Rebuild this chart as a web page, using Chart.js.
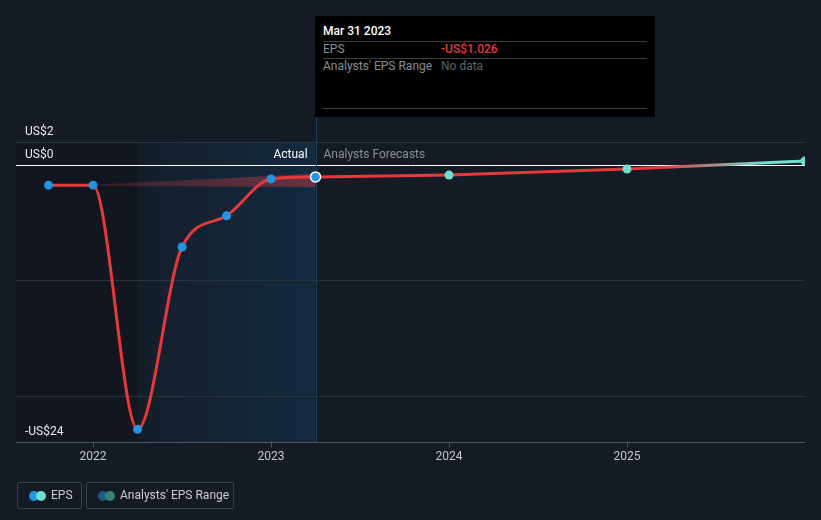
<!DOCTYPE html>
<html><head><meta charset="utf-8">
<script src="https://cdn.jsdelivr.net/npm/chart.js@4/dist/chart.umd.min.js"></script>
<style>
html,body{margin:0;padding:0;background:#151b25;width:821px;height:520px;overflow:hidden;font-family:Roboto,"Noto Sans",sans-serif;}
#wrap{position:absolute;left:0;top:0;width:821px;height:520px;}
#tip{position:absolute;left:315px;top:16px;width:340px;height:101px;background:#000;box-sizing:border-box;}
#tip .t{position:absolute;left:8px;top:8px;color:#fff;font-size:12px;font-weight:500;}
#tip .sep{position:absolute;left:8px;right:8px;height:1px;background:#3a3d44;}
#tip .r{position:absolute;font-size:12px;}
.leg{position:absolute;top:482px;height:27px;border:1px solid #3a404b;border-radius:2px;box-sizing:border-box;color:#c9ccd1;font-size:12px;line-height:25px;}
.dot{position:absolute;top:8px;width:10px;height:10px;border-radius:5px;}
</style></head>
<body>
<div id="wrap"><canvas id="c" width="821" height="520"></canvas></div>
<div id="tip">
  <div class="t">Mar 31 2023</div>
  <div class="sep" style="top:25px"></div>
  <div class="r" style="left:8px;top:26px;color:#8a8e96">EPS</div>
  <div class="r" style="left:126px;top:26px;color:#e5393c;font-weight:500">-US$1.026</div>
  <div class="sep" style="top:42px"></div>
  <div class="r" style="left:8px;top:43px;color:#8a8e96">Analysts' EPS Range</div>
  <div class="r" style="left:126px;top:43px;color:#5e6269">No data</div>
  <div class="sep" style="top:92px"></div>
</div>
<div class="leg" style="left:17px;width:65px;">
  <span class="dot" style="left:11px;background:#2394df"></span><span class="dot" style="left:18px;background:#6de0d2"></span>
  <span style="position:absolute;left:33px">EPS</span>
</div>
<div class="leg" style="left:86px;width:148px;">
  <span class="dot" style="left:11px;background:#1f5a86"></span><span class="dot" style="left:18px;background:#3b8078"></span>
  <span style="position:absolute;left:33px">Analysts' EPS Range</span>
</div>
<script>
// ---- data ----
const epsDates = [2021.75, 2022.0, 2022.25, 2022.5, 2022.75, 2023.0, 2023.25];
const epsValues = [-1.74, -1.74, -22.9, -7.1, -4.4, -1.2, -1.026];
const forecastDates = [2023.25, 2024.0, 2025.0, 2026.0];
const forecastValues = [-1.026, -0.87, -0.35, 0.35];
const rangeDates = [2022.0, 2023.25];
const rangeHigh = [-1.7, -0.75];
const rangeLow = [-1.8, -1.9];
const xTickValues = [2022, 2023, 2024, 2025];
const xTickLabels = ['2022', '2023', '2024', '2025'];
const gridValues = [2, -10, -20];
const yLabelValues = [2, 0, -24];
const yLabels = ['US$2', 'US$0', '-US$24'];
const hoverDate = 2023.25;
const shadeStart = 2022.25;

const pts = (xs, ys) => xs.map((x, i) => ({x, y: ys[i]}));

const bgPlugin = {
  id: 'bg',
  beforeDatasetsDraw(chart) {
    const {ctx, chartArea: a, scales: {x, y}} = chart;
    const xs = x.getPixelForValue(shadeStart), xh = x.getPixelForValue(hoverDate);
    ctx.save();
    ctx.fillStyle = '#12161e';
    ctx.fillRect(a.left, a.top, xs - a.left, a.bottom - a.top);
    const g = ctx.createLinearGradient(xs, 0, xh, 0);
    g.addColorStop(0, 'rgba(20,30,42,1)');
    g.addColorStop(1, 'rgba(19,42,64,1)');
    ctx.fillStyle = g;
    ctx.fillRect(xs, a.top, xh - xs, a.bottom - a.top);
    ctx.lineWidth = 1;
    ctx.strokeStyle = '#2d333d';
    gridValues.forEach(v => {
      const py = Math.round(y.getPixelForValue(v)) + 0.5;
      ctx.beginPath(); ctx.moveTo(a.left, py); ctx.lineTo(a.right, py); ctx.stroke();
    });
    const z = Math.round(y.getPixelForValue(0)) + 0.5;
    ctx.strokeStyle = '#ffffff';
    ctx.beginPath(); ctx.moveTo(a.left, z); ctx.lineTo(a.right, z); ctx.stroke();
    const b = Math.round(a.bottom) + 0.5;
    ctx.strokeStyle = '#4f5560';
    ctx.beginPath(); ctx.moveTo(a.left, b); ctx.lineTo(a.right, b); ctx.stroke();
    xTickValues.forEach(v => {
      const px = Math.round(x.getPixelForValue(v)) + 0.5;
      ctx.beginPath(); ctx.moveTo(px, b); ctx.lineTo(px, b + 5); ctx.stroke();
    });
    ctx.strokeStyle = '#1f3b56';
    ctx.beginPath(); ctx.moveTo(Math.round(xh) + 0.5, 117); ctx.lineTo(Math.round(xh) + 0.5, a.bottom); ctx.stroke();
    ctx.font = '12px Roboto';
    ctx.textBaseline = 'middle';
    ctx.fillStyle = '#e8eaed';
    ctx.textAlign = 'left';
    yLabelValues.forEach((v, i) => {
      ctx.fillText(yLabels[i], 25, y.getPixelForValue(v) - 10.5);
    });
    ctx.textAlign = 'right';
    ctx.fillStyle = '#ffffff';
    ctx.fillText('Actual', xh - 8, y.getPixelForValue(0) - 10);
    ctx.textAlign = 'left';
    ctx.fillStyle = '#8a8f97';
    ctx.fillText('Analysts Forecasts', xh + 8, y.getPixelForValue(0) - 10);
    ctx.textAlign = 'center';
    ctx.fillStyle = '#c3c7cd';
    xTickValues.forEach((v, i) => ctx.fillText(xTickLabels[i], x.getPixelForValue(v), b + 14));
    ctx.restore();
  }
};

const ctx = document.getElementById('c').getContext('2d');
const chart = new Chart(ctx, {
  type: 'line',
  data: {
    datasets: [
      {
        label: 'rangeLow', order: 4, data: pts(rangeDates, rangeLow), borderWidth: 0, pointRadius: 0, fill: false, tension: 0
      },
      {
        label: 'rangeHigh', order: 3, data: pts(rangeDates, rangeHigh), borderWidth: 0, pointRadius: 0, tension: 0,
        fill: '-1',
        backgroundColor: (c) => {
          const a = c.chart.chartArea; if (!a) return 'rgba(200,60,70,0.3)';
          const x = c.chart.scales.x;
          const g = c.chart.ctx.createLinearGradient(x.getPixelForValue(rangeDates[0]), 0, x.getPixelForValue(rangeDates[1]), 0);
          g.addColorStop(0, 'rgba(190,60,70,0.2)');
          g.addColorStop(1, 'rgba(190,60,70,0.5)');
          return g;
        }
      },
      {
        label: 'forecast', order: 2, data: pts(forecastDates, forecastValues), borderWidth: 3,
        borderColor: (c) => {
          const a = c.chart.chartArea; if (!a) return '#e5393c';
          const g = c.chart.ctx.createLinearGradient(a.left, 0, a.right, 0);
          g.addColorStop(0, '#e5393c'); g.addColorStop(0.82, '#e5393c'); g.addColorStop(0.95, '#6de0d2'); g.addColorStop(1, '#6de0d2');
          return g;
        },
        pointBackgroundColor: ['rgba(0,0,0,0)', '#6de0d2', '#6de0d2', '#6de0d2'],
        pointBorderWidth: 0, pointRadius: [0, 4.5, 4.5, 4.5], tension: 0, fill: false
      },
      {
        label: 'EPS', order: 1, data: pts(epsDates, epsValues), borderColor: '#e5393c', borderWidth: 3,
        cubicInterpolationMode: 'monotone', fill: false,
        pointBackgroundColor: '#2394df',
        pointBorderColor: ['#2394df','#2394df','#2394df','#2394df','#2394df','#2394df','#ffffff'],
        pointBorderWidth: [0,0,0,0,0,0,1.5],
        pointRadius: [4.5,4.5,4.5,4.5,4.5,4.5,5]
      }
    ]
  },
  options: {
    responsive: false, animation: false,
    layout: {padding: {left: 16, right: 16, top: 142, bottom: 78}},
    plugins: {legend: {display: false}, tooltip: {enabled: false}},
    scales: {
      x: {type: 'linear', min: 2021.567, max: 2026.0, display: false},
      y: {type: 'linear', min: -24, max: 2, display: false}
    }
  },
  plugins: [bgPlugin]
});
</script>
</body></html>
